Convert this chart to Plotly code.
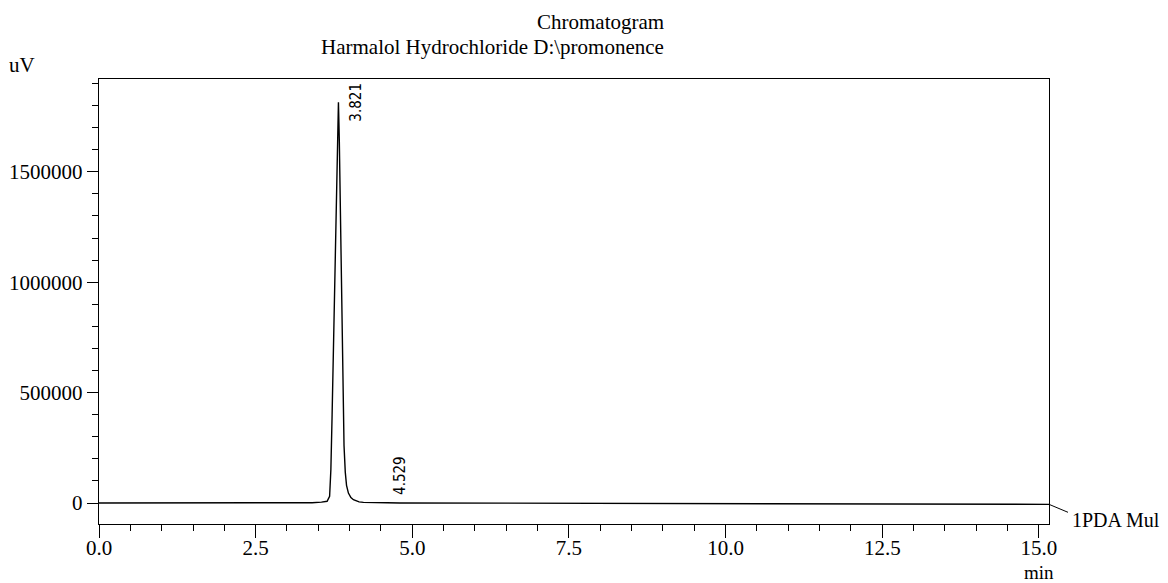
import plotly.graph_objects as go

# Chromatogram trace (time in min, signal in uV)
time_min = [0.0, 1.0, 2.0, 3.0, 3.40, 3.55, 3.64, 3.68, 3.70, 3.72, 3.74, 3.76, 3.78, 3.80,
            3.821, 3.835, 3.85, 3.865, 3.88, 3.895, 3.91, 3.93, 3.95, 3.98, 4.02,
            4.06, 4.10, 4.15, 4.22, 4.35, 4.45, 4.529, 4.60, 4.80, 5.5, 7.0, 9.0, 11.0, 13.0, 15.16]
signal_uv = [0, 0, -500, 0, 1500, 4000, 8000, 30000, 150000, 400000, 700000, 1000000, 1350000, 1640000,
             1815000, 1640000, 1370000, 1040000, 710000, 445000, 260000, 140000, 80000, 45000, 25000,
             15000, 9000, 5000, 3000, 1500, 1200, 1800, 1000, 400, 0, -1000, -2000, -3000, -4000, -6000]

peak_times = [3.821, 4.529]
peak_heights = [1815000, 1800]
peak_labels = ["3.821", "4.529"]

x_major = [0.0, 2.5, 5.0, 7.5, 10.0, 12.5, 15.0]
x_major_text = ["0.0", "2.5", "5.0", "7.5", "10.0", "12.5", "15.0"]
y_major = [0, 500000, 1000000, 1500000]
y_major_text = ["0", "500000", "1000000", "1500000"]

title_line1 = "Chromatogram"
title_line2 = "Harmalol Hydrochloride D:\\promonence"
channel_label = "1PDA Mul"

serif = "Liberation Serif"

# the page body has an 8 px margin; the figure is sized so the plot lands where the reference's does
W, H = 1160, 575
ML, MR, MT, MB = 91, 119, 71, 59

fig = go.Figure()
fig.add_trace(go.Scatter(x=time_min, y=signal_uv, mode="lines",
                         line=dict(color="black", width=1.4), hoverinfo="skip",
                         showlegend=False))

for t, h, lab in zip(peak_times, peak_heights, peak_labels):
    big = h > 100000
    fig.add_annotation(x=t, y=h, text=lab, showarrow=False, textangle=-90,
                       xanchor="center", yanchor="middle" if big else "bottom",
                       xshift=18 if big else 17, yshift=0 if big else 6,
                       font=dict(family="DejaVu Sans Condensed", size=15, color="black"))

plot_w = W - ML - MR
fig.add_annotation(xref="paper", yref="paper", x=(600 - 8 - ML) / plot_w, y=1, yshift=57,
                   text=title_line1, showarrow=False, xanchor="center", yanchor="middle",
                   font=dict(family=serif, size=21, color="black"))
fig.add_annotation(xref="paper", yref="paper", x=(492 - 8 - ML) / plot_w, y=1, yshift=32,
                   text=title_line2, showarrow=False, xanchor="center", yanchor="middle",
                   font=dict(family=serif, size=21, color="black"))
fig.add_annotation(xref="paper", yref="paper", x=0, y=1, xshift=-77, yshift=14,
                   text="uV", showarrow=False, xanchor="center", yanchor="middle",
                   font=dict(family=serif, size=21, color="black"))
fig.add_annotation(xref="x", yref="paper", x=15.0, y=0, yshift=-48,
                   text="min", showarrow=False, xanchor="center", yanchor="middle",
                   font=dict(family=serif, size=19, color="black"))
fig.add_annotation(xref="paper", yref="y", x=1, y=0, xshift=21, yshift=-17,
                   text=channel_label, showarrow=False, xanchor="left", yanchor="middle",
                   font=dict(family=serif, size=20, color="black"))
fig.add_shape(type="line", xref="paper", yref="y", x0=1.0, x1=1.02, y0=-6000, y1=-42000,
              line=dict(color="black", width=1))

fig.update_layout(
    width=W, height=H,
    margin=dict(l=ML, r=MR, t=MT, b=MB, autoexpand=False),
    paper_bgcolor="white", plot_bgcolor="white",
    font=dict(family=serif, size=21, color="black"),
)
fig.update_xaxes(range=[0, 15.16], showgrid=False, zeroline=False, automargin=False,
                 showline=True, linecolor="black", linewidth=1.4, mirror=True,
                 tickmode="array", tickvals=x_major, ticktext=x_major_text,
                 ticks="outside", ticklen=13, tickcolor="black", tickwidth=1.4,
                 ticklabelstandoff=-8,
                 minor=dict(dtick=0.5, ticks="outside", ticklen=6, tickcolor="black", tickwidth=1.4))
fig.update_yaxes(range=[-95000, 1920000], showgrid=False, zeroline=False, automargin=False,
                 showline=True, linecolor="black", linewidth=1.4, mirror=True,
                 tickmode="array", tickvals=y_major, ticktext=y_major_text,
                 ticks="outside", ticklen=11, tickcolor="black", tickwidth=1.4,
                 minor=dict(dtick=100000, tick0=0, ticks="outside", ticklen=6, tickcolor="black", tickwidth=1.4))

fig.write_html("out.html")
